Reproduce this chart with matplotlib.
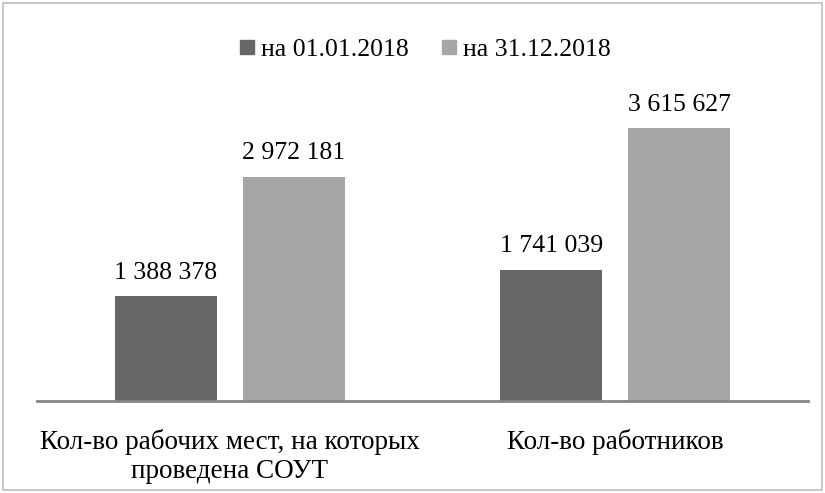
import matplotlib
matplotlib.use("Agg")
import matplotlib.pyplot as plt
from matplotlib.patches import Rectangle
from matplotlib.lines import Line2D
from matplotlib import font_manager as fm
import numpy as np

categories = ["Кол-во рабочих мест, на которых\nпроведена СОУТ", "Кол-во работников"]
series_names = ["на 01.01.2018", "на 31.12.2018"]
values_start = [1388378, 1741039]
values_end = [2972181, 3615627]
colors = ["#666666", "#a6a6a8"]

FAM = "Liberation Serif"
try:
    path = fm.findfont(fm.FontProperties(family=FAM), fallback_to_default=False)
    FP = fm.FontProperties(fname=path, size=18.5)
    FPX = fm.FontProperties(fname=path, size=19.5)
except Exception:
    FP = fm.FontProperties(family=[FAM, "DejaVu Serif"], size=18.5)
    FPX = fm.FontProperties(family=[FAM, "DejaVu Serif"], size=19.5)

fig = plt.figure(figsize=(8.25, 4.93), dpi=100)
fig.patches.append(Rectangle((0.004, 0.006), 0.992, 0.988, transform=fig.transFigure,
                             fill=False, edgecolor="#bfbfbf", linewidth=1.2))
ax = fig.add_axes([0.0448, 0.1866, 0.9345, 0.6714])

x = np.arange(len(categories))
w = 0.265
off = 0.166
def fmt(v):
    return f"{v:,}".replace(",", " ")

for i, (vals, name) in enumerate(zip([values_start, values_end], series_names)):
    pos = x + (-off if i == 0 else off)
    ax.bar(pos, vals, width=w, color=colors[i], label=name)
    for p, v in zip(pos, vals):
        ax.annotate(fmt(v), (p, v), xytext=(0, 9), textcoords="offset points",
                    ha="center", va="bottom", fontproperties=FP)

ax.set_xlim(-0.5, 1.5)
ax.set_ylim(0, 4.384e6)
for s in ["top", "right", "left"]:
    ax.spines[s].set_visible(False)
ax.spines["bottom"].set_color("#868686")
ax.spines["bottom"].set_linewidth(2)
ax.set_yticks([])
ax.set_xticks(x)
ax.set_xticklabels(categories, fontproperties=FPX, linespacing=1.2)
ax.tick_params(axis="x", length=0, pad=20)

handles = [Line2D([], [], marker="s", linestyle="none", markersize=10,
                  markerfacecolor=c, markeredgecolor=c) for c in colors]
fig.legend(handles, series_names, loc="center", bbox_to_anchor=(0.513, 0.900),
           ncol=2, frameon=False, prop=FP,
           handletextpad=0.1, columnspacing=1.1, handlelength=0.9)

fig.savefig("out.png", dpi=100)
